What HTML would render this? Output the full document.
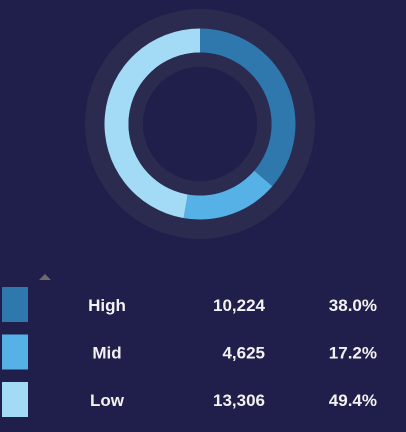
<!DOCTYPE html>
<html><head><meta charset="utf-8"><style>
body{margin:0;width:406px;height:432px;background:#201e4a;overflow:hidden;font-family:"Liberation Sans",sans-serif}
svg{position:absolute;left:0;top:0}
</style></head><body>
<svg width="406" height="432">
<circle cx="200" cy="124" r="115" fill="#2b2a4f"/>
<g id="slices"></g>
<circle cx="200" cy="124" r="71.5" fill="#2b2a4f"/>
<circle cx="200" cy="124" r="57" fill="#201e4a"/>
<polygon points="39,280 45,274 51,280" fill="#6d6a6a"/>
<g id="legend"></g>
</svg>
<script>
const categories=["High","Mid","Low"];
const values=[10224,4625,13306];
const labels=["10,224","4,625","13,306"];
const pcts=["38.0%","17.2%","49.4%"];
const colors=["#2e78ae","#55b1e6","#a3daf5"];
const NS="http://www.w3.org/2000/svg";
const cx=200,cy=124,R=95.5,r=71.5;
const total=values.reduce((a,b)=>a+b,0);
let a0=0;
const sg=document.getElementById('slices');
function pt(a,rad){return [cx+rad*Math.sin(a),cy-rad*Math.cos(a)];}
values.forEach((v,i)=>{
 const a1=a0+v/total*2*Math.PI;
 const large=(a1-a0)>Math.PI?1:0;
 const p1=pt(a0,R),p2=pt(a1,R),p3=pt(a1,r),p4=pt(a0,r);
 const p=document.createElementNS(NS,'path');
 p.setAttribute('d',`M${p1}A${R},${R} 0 ${large} 1 ${p2}L${p3}A${r},${r} 0 ${large} 0 ${p4}Z`);
 p.setAttribute('fill',colors[i]);
 
 
 sg.appendChild(p);
 a0=a1;
});
const lg=document.getElementById('legend');
categories.forEach((c,i)=>{
 const y=287+i*47.5;
 const g=document.createElementNS(NS,'g');
 
 
 const s=document.createElementNS(NS,'rect');
 s.setAttribute('x',2);s.setAttribute('y',y);s.setAttribute('width',26);s.setAttribute('height',35);s.setAttribute('fill',colors[i]);
 
 
 g.appendChild(s);
 const texts=[[c,107,'middle'],[labels[i],265,'end'],[pcts[i],377,'end']];
 texts.forEach(([t,x,anc],j)=>{
  const e=document.createElementNS(NS,'text');
  e.setAttribute('x',x);e.setAttribute('y',y+24);e.setAttribute('text-anchor',anc);
  e.setAttribute('fill','#f2f2f2');e.setAttribute('font-size','17');e.setAttribute('font-weight','bold');
  e.setAttribute('font-family','"Liberation Sans",sans-serif');
  e.textContent=t;
  
  
  g.appendChild(e);
 });
 lg.appendChild(g);
});
</script>
</body></html>
